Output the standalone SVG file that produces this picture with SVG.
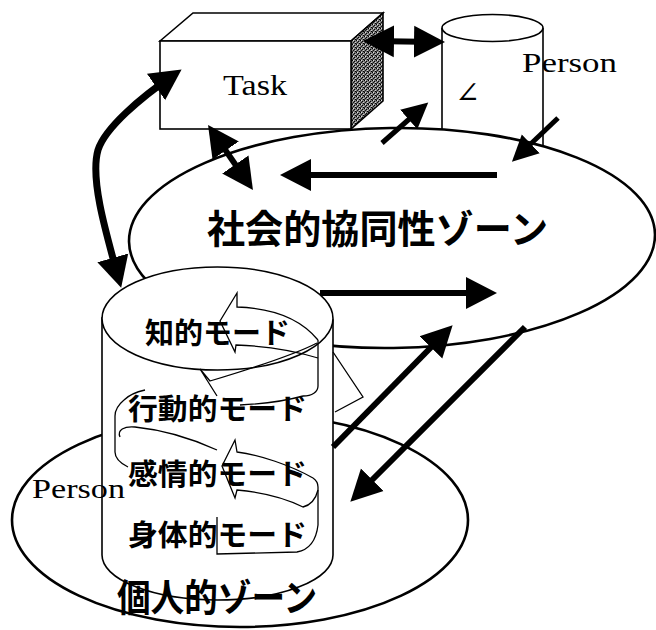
<svg xmlns="http://www.w3.org/2000/svg" width="656" height="630" viewBox="0 0 656 630">
<style>
.ol{fill:#fff;stroke:#000;stroke-width:1.6}
.zone{fill:#fff;stroke:#000;stroke-width:2.6}
.rib{fill:none;stroke:#000;stroke-width:1.3;stroke-linejoin:miter}
.ln{fill:none;stroke:#000;stroke-width:1.6}
.arr{fill:none;stroke:#000;stroke-width:6}
.serif{font-family:"Liberation Serif","DejaVu Serif",serif;fill:#000}
.jp{font-family:"Noto Sans CJK JP","Noto Sans",sans-serif;font-weight:700;fill:#000}
</style>
<defs>
<pattern id="stip" width="4" height="4" patternUnits="userSpaceOnUse">
<rect width="4" height="4" fill="#7a7a7a"/>
<rect x="0" y="0" width="1" height="1" fill="#000"/>
<rect x="2" y="1" width="1" height="1" fill="#000"/>
<rect x="1" y="2" width="1" height="1" fill="#111"/>
<rect x="3" y="3" width="1" height="1" fill="#000"/>
<rect x="1" y="0" width="1" height="1" fill="#ddd"/>
<rect x="3" y="2" width="1" height="1" fill="#ccc"/>
<rect x="0" y="3" width="1" height="1" fill="#333"/>
</pattern>
<marker id="ah" markerUnits="userSpaceOnUse" markerWidth="32" markerHeight="36" viewBox="0 0 32 36" refX="23" refY="18" orient="auto-start-reverse"><path d="M0,2 L31,18 L0,34 z" fill="#000"/></marker>
<marker id="ahs" markerUnits="userSpaceOnUse" markerWidth="27" markerHeight="28" viewBox="0 0 27 28" refX="19" refY="14" orient="auto-start-reverse"><path d="M0,1 L26,14 L0,27 z" fill="#000"/></marker>
</defs>

<g id="individual-zone">
<ellipse class="zone" cx="240" cy="520" rx="228" ry="107"/>
</g>

<g id="task">
<polygon class="ol" points="160,41 193,13 383,13 351,41"/>
<polygon points="351,41 383,13 383,101 351,129" fill="url(#stip)" stroke="#000" stroke-width="1.6"/>
<rect class="ol" x="160" y="41" width="191" height="88"/>
<text class="serif" x="223" y="95" font-size="29" textLength="64" lengthAdjust="spacingAndGlyphs">Task</text>
</g>

<g id="person-top">
<rect x="442" y="28" width="101" height="140" fill="#fff"/>
<line class="ln" x1="442" y1="28" x2="442" y2="168"/>
<line class="ln" x1="543" y1="28" x2="543" y2="168"/>
<ellipse class="ol" cx="492.5" cy="28" rx="50.5" ry="13.5"/>
<text class="serif" x="455" y="103" font-size="30">∠</text>
<text class="serif" x="522" y="72" font-size="28" textLength="95" lengthAdjust="spacingAndGlyphs">Person</text>
</g>

<g id="social-zone">
<ellipse class="zone" cx="392" cy="238" rx="263" ry="110" transform="rotate(-0.8 392 238)"/>
<text class="jp" x="207" y="243" font-size="39" textLength="341" lengthAdjust="spacingAndGlyphs">社会的協同性ゾーン</text>
</g>

<g id="person-cylinder">
<path class="ol" d="M102,318 L102,555 A115.5,45 0 0 0 333,555 L333,320 Z"/>
<ellipse class="ol" cx="217.5" cy="318.5" rx="115.5" ry="51.5"/>
</g>

<g id="modes">
<path class="rib" d="M318,340 C300,318 270,308 237,307 L237,293 L220,321 L235,352 L236,345 C265,346 292,350 318,358"/>
<path class="rib" d="M318,340 L318,386 C318,392 312,396 303,396"/>
<path class="rib" d="M317,343 C290,357 240,372 210,381 L200,369 L217,396"/>
<path class="rib" d="M303,396 C285,401 262,404 240,405"/>
<path class="rib" d="M145,390 C136,392 129,395 124,400 C118,405 115,410 115,416 L115,452 C115,458 120,463 128,467"/>
<path class="rib" d="M120,437 C117,430 124,426 135,427 C165,430 195,440 217,450"/>
<path class="rib" d="M313,478 C290,465 260,455 237,452 L235,440 L222,466 L235,498 L237,490 C260,492 285,498 303,507 C311,505 316,498 318,490"/>
<path class="rib" d="M313,478 C316,480 318,483 318,487 L318,525"/>
<path class="rib" d="M217,517 L217,554 L297,552 C308,550 316,542 318,525"/>
<path class="rib" d="M333,352 L363,397 L335,412"/>
<text class="jp" x="145" y="344" font-size="29" textLength="145" lengthAdjust="spacingAndGlyphs">知的モード</text>
<text class="jp" x="128" y="420" font-size="29" textLength="179" lengthAdjust="spacingAndGlyphs">行動的モード</text>
<text class="jp" x="128" y="485" font-size="29" textLength="179" lengthAdjust="spacingAndGlyphs">感情的モード</text>
<text class="jp" x="128" y="546" font-size="29" textLength="179" lengthAdjust="spacingAndGlyphs">身体的モード</text>
</g>

<g id="labels">
<text class="serif" x="32" y="498" font-size="28" textLength="93" lengthAdjust="spacingAndGlyphs">Person</text>
<text class="jp" x="117" y="611" font-size="38" textLength="200" lengthAdjust="spacingAndGlyphs">個人的ゾーン</text>
</g>

<g id="connectors">
<path class="arr" d="M497,175 L288,175" marker-end="url(#ah)"/>
<path class="arr" d="M320,293 L489,293" marker-end="url(#ah)"/>
<path class="arr" d="M333,447 L447,331" marker-end="url(#ah)"/>
<path class="arr" d="M525,327 L356,496" marker-end="url(#ah)"/>
<path class="arr" style="stroke-width:5" d="M382,143 L423,107" marker-end="url(#ahs)"/>
<path class="arr" style="stroke-width:5" d="M558,118 L517,157" marker-end="url(#ahs)"/>
<path class="arr" d="M371,41 L437,42" marker-start="url(#ah)" marker-end="url(#ah)"/>
<path class="arr" d="M212.6,131.6 L248.4,183.4" marker-start="url(#ah)" marker-end="url(#ah)"/>
<path class="arr" style="stroke-width:7" d="M175,74 C140,98 105,128 98,150 C90,178 105,230 119,280" marker-start="url(#ah)" marker-end="url(#ah)"/>
</g>
</svg>
